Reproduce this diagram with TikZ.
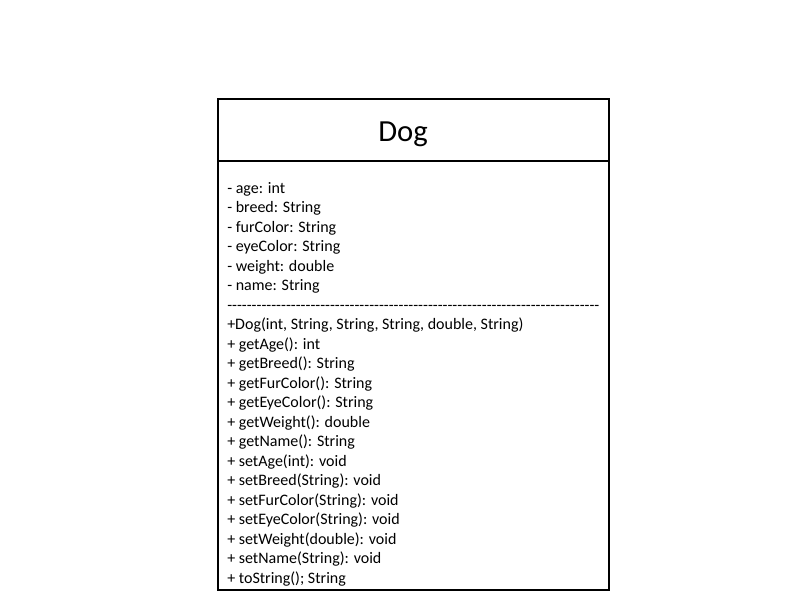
\documentclass[tikz,border=0pt]{standalone}
\usepackage{fontspec}
\setmainfont{Carlito}
\usepackage{tikz}
\usetikzlibrary{positioning}
\newcommand{\dashrule}{\foreach \k in {1,...,76}{-}}
\tikzset{
  headbox/.style={draw=black, line width=1.5pt, inner sep=0pt, outer sep=0pt,
    minimum width=293.25pt, minimum height=46.5pt},
  bodybox/.style={draw=black, line width=1.5pt, inner sep=0pt, outer sep=0pt,
    minimum width=293.25pt, minimum height=321.75pt},
  classname/.style={anchor=base, inner sep=0pt, font=\fontsize{23}{27}\selectfont},
  member/.style={anchor=base west, inner sep=0pt, font=\fontsize{12}{14}\selectfont}
}
\begin{document}
\begin{tikzpicture}[x=0.75pt, y=-0.75pt]
  \useasboundingbox (0,0) rectangle (800,600);

  \node[headbox, anchor=north west] (head) at (218,99) {};
  \node[bodybox, below=0pt of head] (body) {};
  \node[classname] (title) at (403,141) {Dog};

  % attributes, separator and operations
  \foreach \txt [count=\i] in {
      {- age: int}, {- breed: String}, {- furColor: String},
      {- eyeColor: String}, {- weight: double}, {- name: String},
      {\dashrule},
      {+Dog(int, String, String, String, double, String)},
      {+ getAge(): int}, {+ getBreed(): String}, {+ getFurColor(): String},
      {+ getEyeColor(): String}, {+ getWeight(): double},
      {+ getName(): String}, {+ setAge(int): void},
      {+ setBreed(String): void}, {+ setFurColor(String): void},
      {+ setEyeColor(String): void}, {+ setWeight(double): void},
      {+ setName(String): void}, {+ toString(); String}}
    \node[member] (m\i) at (227,{193+(\i-1)*19.5}) {\txt};

\end{tikzpicture}
\end{document}
